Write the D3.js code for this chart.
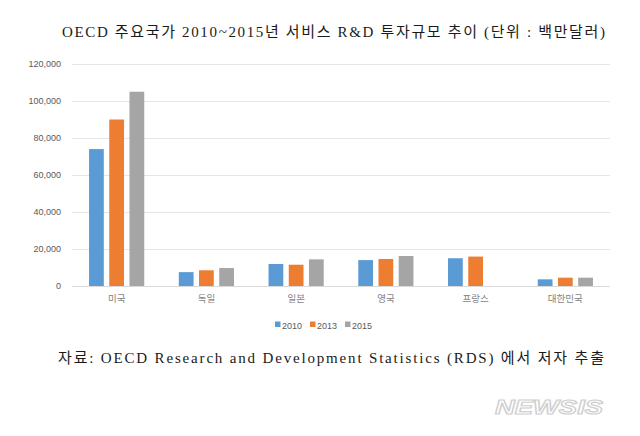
<!DOCTYPE html>
<html><head><meta charset="utf-8">
<script src="https://cdn.jsdelivr.net/npm/d3@7"></script>
<style>
html,body{margin:0;padding:0;background:#fff;}
svg{display:block;}
</style></head>
<body>
<svg id="chart" width="640" height="436"></svg>
<script>
const categories = ["미국","독일","일본","영국","프랑스","대한민국"];
const seriesNames = ["2010","2013","2015"];
const values2010 = [74000, 7500, 11900, 14000, 15000, 3600];
const values2013 = [90000, 8500, 11500, 14600, 15900, 4500];
const values2015 = [105000, 9700, 14400, 16200, null, 4500];
const yTicks = [0,20000,40000,60000,80000,100000,120000];
const colors = ["#5b9bd5","#ed7d31","#a5a5a5"];
const titleText = "OECD 주요국가 2010~2015년 서비스 R&D 투자규모 추이 (단위 : 백만달러)";
const sourceText = "자료: OECD Research and Development Statistics (RDS) 에서 저자 추출";

const series = [values2010, values2013, values2015];
const svg = d3.select("#chart");
const pLeft = 72, pRight = 610, pTop = 64, pBottom = 286;

const x = d3.scaleBand().domain(categories).range([pLeft, pRight]).paddingInner(0.385).paddingOuter(0.19);
const xs = d3.scaleBand().domain(seriesNames).range([0, x.bandwidth()]).paddingInner(0.27);
const y = d3.scaleLinear().domain([0,120000]).range([pBottom, pTop]);

// gridlines
svg.append("g").selectAll("line").data(yTicks).join("line")
  .attr("x1", pLeft).attr("x2", pRight)
  .attr("y1", d=>y(d)+0.5).attr("y2", d=>y(d)+0.5)
  .attr("stroke", d=> d===0 ? "#d9d9d9" : "#e6e6e6").attr("stroke-width",1);

// y axis labels
const yAxis = d3.axisLeft(y).tickValues(yTicks).tickSize(0).tickPadding(0).tickFormat(d3.format(","));
const ya = svg.append("g").attr("transform","translate(61,0)").call(yAxis);
ya.select(".domain").remove();
ya.selectAll("text").attr("fill","#595959").style("font-family","'Liberation Sans','Noto Sans',sans-serif").style("font-size","9px");

// bars
seriesNames.forEach((s,i)=>{
  svg.append("g").selectAll("rect")
    .data(categories.map((c,j)=>({c, v: series[i][j]})).filter(d=>d.v!=null))
    .join("rect")
    .attr("x", d=> x(d.c)+xs(s))
    .attr("width", xs.bandwidth())
    .attr("y", d=> y(d.v))
    .attr("height", d=> y(0)-y(d.v))
    .attr("fill", colors[i]);
});

// x axis labels
const xAxis = d3.axisBottom(x).tickSize(0).tickPadding(0);
const xa = svg.append("g").attr("transform",`translate(0,${pBottom+9})`).call(xAxis);
xa.select(".domain").remove();
xa.selectAll("text").attr("fill","#7f7f7f").style("font-family","'Noto Sans CJK KR',sans-serif").style("font-size","9.5px");

// legend
const legX = [275, 310, 345];
const leg = svg.append("g");
seriesNames.forEach((s,i)=>{
  leg.append("rect").attr("x", legX[i]).attr("y", 321.5).attr("width",5.5).attr("height",5.5).attr("fill",colors[i]);
  leg.append("text").attr("x", legX[i]+7).attr("y", 328.5).text(s)
    .attr("fill","#595959").style("font-family","'Liberation Sans Narrow','Liberation Sans',sans-serif").style("font-size","9px");
});

// title
svg.append("text").attr("x", 62).attr("y", 37).text(titleText)
  .attr("fill","#1a1a1a").attr("textLength", 543).attr("lengthAdjust","spacing")
  .style("font-family","'Liberation Serif','Noto Sans CJK KR',serif").style("font-size","15px");

// source
svg.append("text").attr("x", 58).attr("y", 363).text(sourceText)
  .attr("fill","#1a1a1a").attr("textLength", 546).attr("lengthAdjust","spacing")
  .style("font-family","'Liberation Serif','Noto Sans CJK KR',serif").style("font-size","15px");

// watermark
svg.append("text").attr("x", 495).attr("y", 414).text("NEWSIS")
  .attr("fill","#ffffff").attr("stroke","#cfcfcf").attr("stroke-width",1.2)
  .attr("textLength", 108).attr("lengthAdjust","spacingAndGlyphs")
  .style("font-family","'Liberation Sans',sans-serif").style("font-weight","bold").style("font-style","italic")
  .style("font-size","21px");
</script>
</body></html>
